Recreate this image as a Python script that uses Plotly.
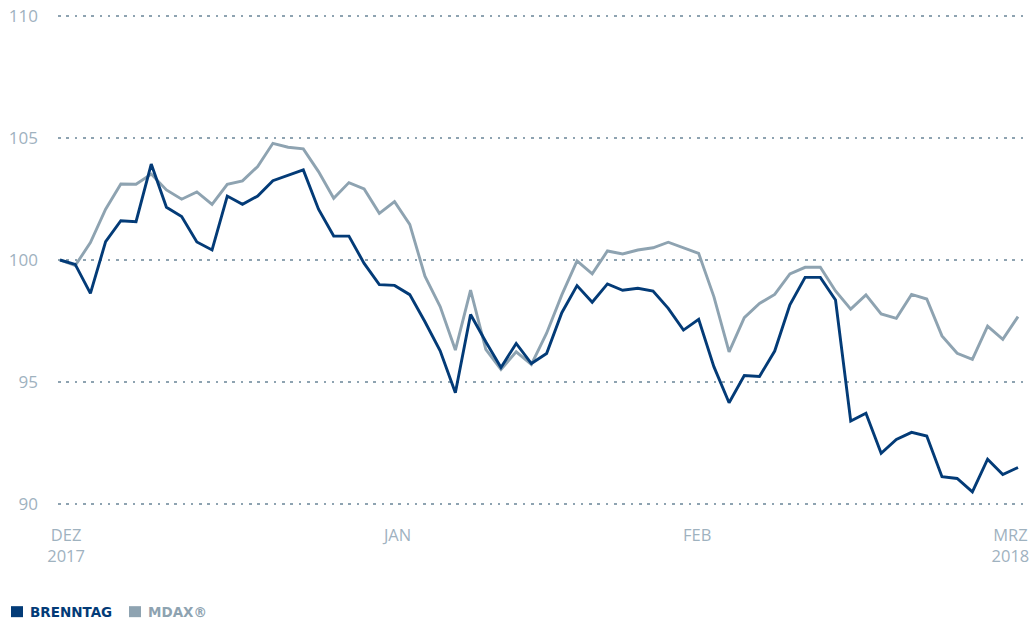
import plotly.graph_objects as go

# ---- data (trading-day index, indexed performance) ----
brenntag = [100.0, 99.82, 98.63, 100.75, 101.61, 101.57, 103.93, 102.16, 101.78, 100.74,
            100.41, 102.62, 102.28, 102.62, 103.25, 103.48, 103.69, 102.08, 100.98, 100.98,
            99.86, 98.99, 98.96, 98.58, 97.47, 96.28, 94.56, 97.77, 96.65, 95.60,
            96.58, 95.76, 96.17, 97.84, 98.95, 98.27, 99.02, 98.76, 98.84, 98.73,
            98.02, 97.13, 97.57, 95.63, 94.15, 95.27, 95.23, 96.27, 98.16, 99.29,
            99.29, 98.36, 93.40, 93.72, 92.08, 92.65, 92.94, 92.79, 91.12, 91.05,
            90.50, 91.84, 91.21, 91.50]
mdax = [100.0, 99.77, 100.71, 102.08, 103.11, 103.10, 103.52, 102.87, 102.49, 102.79,
        102.28, 103.10, 103.24, 103.83, 104.78, 104.62, 104.55, 103.62, 102.53, 103.17,
        102.91, 101.91, 102.39, 101.46, 99.34, 98.09, 96.31, 98.77, 96.34, 95.52,
        96.24, 95.72, 97.00, 98.57, 99.96, 99.43, 100.37, 100.25, 100.41, 100.50,
        100.73, 100.50, 100.27, 98.50, 96.24, 97.64, 98.22, 98.59, 99.43, 99.70,
        99.70, 98.73, 97.99, 98.57, 97.79, 97.61, 98.59, 98.40, 96.89, 96.18,
        95.93, 97.29, 96.75, 97.68]
days = list(range(len(brenntag)))

x_tick_pos = [0.4, 22.2, 41.9, 62.5]
x_tick_labels = ["DEZ<br>2017", "JAN", "FEB", "MRZ<br>2018"]
y_ticks = [90, 95, 100, 105, 110]
series_names = ["BRENNTAG", "MDAX®"]

NAVY = "#033b77"
GREY = "#8ea3b1"
TICK = "#9fb2bf"

W, H = 1036, 619
L, R, T, B = 58, 8, 11.12, 110.12

fig = go.Figure()
fig.add_trace(go.Scatter(x=days, y=mdax, mode="lines", name=series_names[1],
                         line=dict(color=GREY, width=2.9), hoverinfo="skip"))
fig.add_trace(go.Scatter(x=days, y=brenntag, mode="lines", name=series_names[0],
                         line=dict(color=NAVY, width=2.9), hoverinfo="skip"))


def px_x(p):
    return (p - L) / (W - L - R)


def px_y(p):
    return (H - B - p) / (H - T - B)


# legend (squares + coloured labels)
legend_items = [(11, 28, NAVY, series_names[0]), (129, 146, GREY, series_names[1])]
for sx, tx, col, name in legend_items:
    fig.add_shape(type="rect", xref="paper", yref="paper",
                  x0=px_x(sx), x1=px_x(sx + 12), y0=px_y(617), y1=px_y(606),
                  fillcolor=col, line=dict(width=0))
    fig.add_annotation(xref="paper", yref="paper", x=px_x(tx), y=px_y(611.5),
                       xanchor="left", yanchor="middle", showarrow=False,
                       text="<b>%s</b>" % name,
                       font=dict(family="DejaVu Sans", size=13.5, color=col))

fig.update_layout(
    width=W, height=H,
    margin=dict(l=L, r=R, t=T, b=B, pad=0, autoexpand=False),
    paper_bgcolor="white", plot_bgcolor="white",
    showlegend=False,
    font=dict(family="Open Sans", color=TICK, size=16),
    xaxis=dict(range=[-2 / 15.206, 63 + 10 / 15.206], showgrid=False, zeroline=False,
               showline=False, ticks="", tickmode="array", tickvals=x_tick_pos,
               ticktext=x_tick_labels, tickfont=dict(size=16.5, color=TICK),
               ticklabelstandoff=14, automargin=False),
    yaxis=dict(range=[89.8, 110.2], tickmode="array", tickvals=y_ticks,
               showgrid=True, gridcolor=GREY, gridwidth=2.6, griddash="2.6px,5.7px",
               zeroline=False, showline=False, ticks="", automargin=False,
               tickfont=dict(size=17, color=TICK), ticklabelstandoff=19),
)

fig.write_html("out.html", config={"displayModeBar": False, "staticPlot": True},
               post_script="document.body.style.margin='0';document.body.style.overflow='hidden';")
